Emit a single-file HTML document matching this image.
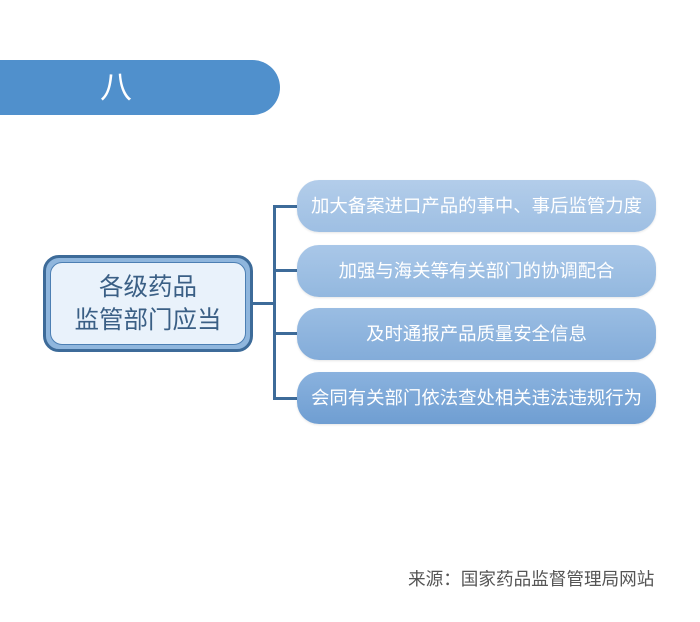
<!DOCTYPE html>
<html><head><meta charset="utf-8"><style>
body{margin:0;width:700px;height:622px;background:#fff;position:relative;overflow:hidden;font-family:"Liberation Sans","Noto Sans CJK SC",sans-serif}
.banner{position:absolute;left:0;top:60px;width:280px;height:55px;background:#5090cc;border-radius:0 28px 28px 0}
.banner span{position:absolute;left:100px;top:8px;color:#fff;font-size:32px;line-height:38px}
.center{position:absolute;left:43px;top:255px;width:204px;height:91px;border:3px solid #3d6b99;border-radius:16px;background:#8fb6dd}
.center .in{position:absolute;left:4px;top:4px;right:4px;bottom:4px;background:#e9f2fb;border:1px solid #4c7fb3;border-radius:12px;color:#3a5f85;font-size:24.5px;line-height:33px;text-align:center;padding-top:8px;box-sizing:border-box;white-space:nowrap}
.l{position:absolute;background:#3d6b99}
.b{position:absolute;left:297px;width:359px;height:52px;border-radius:22px;color:#fff;font-size:18.4px;line-height:52px;text-align:center;box-shadow:0 1px 2px rgba(0,0,0,.1);white-space:nowrap}
.foot{position:absolute;left:408px;top:566px;font-size:17.6px;color:#555;white-space:nowrap}
</style></head><body>
<div class="banner"><span>八</span></div>
<div class="center"><div class="in">各级药品<br>监管部门应当</div></div>
<div class="l" style="left:252px;top:302px;width:24px;height:3px"></div>
<div class="l" style="left:273px;top:205px;width:3px;height:195px"></div>
<div class="l" style="left:273px;top:205px;width:26px;height:3px"></div>
<div class="l" style="left:273px;top:269px;width:26px;height:3px"></div>
<div class="l" style="left:273px;top:332px;width:26px;height:3px"></div>
<div class="l" style="left:273px;top:397px;width:26px;height:3px"></div>
<div class="b" style="top:180px;background:linear-gradient(#b3cdea,#9ebfe3)">加大备案进口产品的事中、事后监管力度</div>
<div class="b" style="top:245px;background:linear-gradient(#a9c7e8,#93b8df)">加强与海关等有关部门的协调配合</div>
<div class="b" style="top:308px;background:linear-gradient(#9abde3,#83acd9)">及时通报产品质量安全信息</div>
<div class="b" style="top:372px;background:linear-gradient(#8ab2de,#6f9ed2)">会同有关部门依法查处相关违法违规行为</div>
<div class="foot">来源：国家药品监督管理局网站</div>
</body></html>
